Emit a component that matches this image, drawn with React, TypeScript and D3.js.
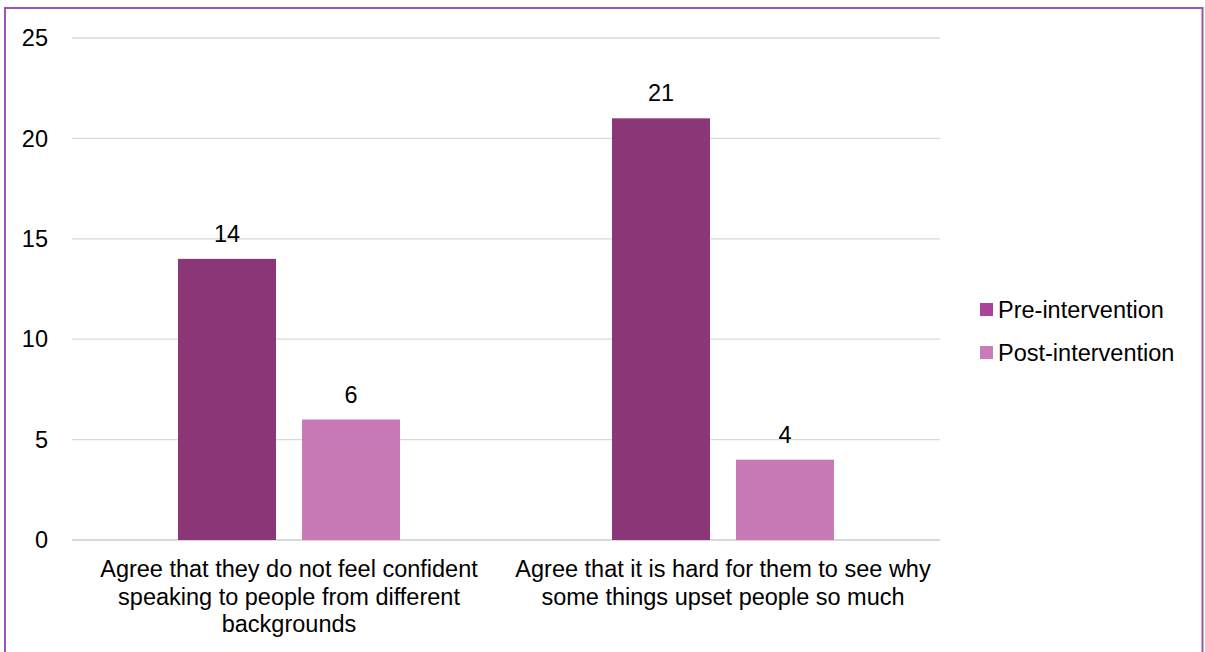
import React from "react";
import * as d3 from "d3";

const categories = [
  ["Agree that they do not feel confident", "speaking to people from different", "backgrounds"],
  ["Agree that it is hard for them to see why", "some things upset people so much"],
];
const seriesNames = ["Pre-intervention", "Post-intervention"];
const preValues = [14, 21];
const postValues = [6, 4];
const yTicks = [0, 5, 10, 15, 20, 25];

const barColors = ["#8B3777", "#C879B6"];
const legendColors = ["#A8449A", "#C97DB8"];

export default function App() {
  const W = 1205, H = 652;
  const left = 72, right = 940, top = 38, bottom = 540;
  const x0 = d3.scaleBand().domain(["0", "1"]).range([left, right]).paddingInner(0).paddingOuter(0);
  const x1 = d3.scaleBand().domain(["0", "1"]).range([0, x0.bandwidth()]).paddingInner(0.2097).paddingOuter(0.855);
  const y = d3.scaleLinear().domain([0, 25]).range([bottom, top]);
  const series = [preValues, postValues];
  const font = "'Liberation Sans', Arial, sans-serif";
  const fs = 23.5;
  return (
    <svg width={W} height={H} style={{ position: "absolute", left: 0, top: 0 }} fontFamily={font}>
      <rect x={0} y={0} width={W} height={H} fill="#fff" />
      <rect x={5} y={8} width={1197.5} height={H + 10} fill="none" stroke="#9B55B0" strokeWidth={2} />
      {yTicks.map((t) => (
        <g key={t}>
          <line x1={left} x2={right} y1={y(t)} y2={y(t)} stroke="#D9D9D9" strokeWidth={t === 0 ? 2 : 1.3} />
          <text x={48} y={y(t)} dy="0.35em" textAnchor="end" fontSize={fs} fill="#000">{t}</text>
        </g>
      ))}
      {categories.map((c, ci) => (
        <g key={ci}>
          {series.map((s, si) => {
            const bx = (x0(String(ci)) as number) + (x1(String(si)) as number);
            const bw = x1.bandwidth();
            return (
              <g key={si}>
                <rect x={bx} y={y(s[ci])} width={bw} height={bottom - y(s[ci])} fill={barColors[si]} />
                <text x={bx + bw / 2} y={y(s[ci]) - 17} textAnchor="middle" fontSize={fs} fill="#000">{s[ci]}</text>
              </g>
            );
          })}
          {c.map((line, li) => (
            <text key={li} x={(x0(String(ci)) as number) + x0.bandwidth() / 2} y={577 + li * 27.5} textAnchor="middle" fontSize={fs} fill="#000">{line}</text>
          ))}
        </g>
      ))}
      {seriesNames.map((n, i) => (
        <g key={n}>
          <rect x={980} y={303 + i * 43} width={13} height={13} fill={legendColors[i]} />
          <text x={998} y={310 + i * 43} dy="0.35em" fontSize={fs} fill="#000">{n}</text>
        </g>
      ))}
    </svg>
  );
}
